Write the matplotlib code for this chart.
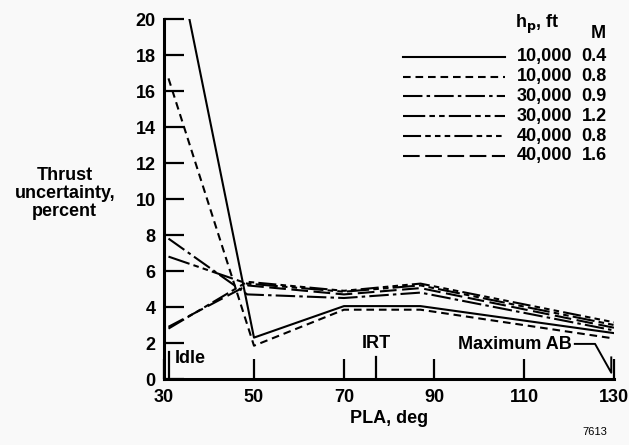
"""
Thrust uncertainty vs PLA for six flight conditions (h_p, M).
Output: out.png
"""
import matplotlib
matplotlib.use("Agg")
import matplotlib.pyplot as plt

plt.rcParams["font.family"] = ["Liberation Sans", "DejaVu Sans"]
plt.rcParams["font.weight"] = "bold"
plt.rcParams["lines.scale_dashes"] = False

FS = 13

# series data (PLA, deg -> thrust uncertainty, percent)
pla_lo = [32, 50, 70, 87, 130]
unc_10k_04 = [24.5, 2.3, 4.05, 4.05, 2.55]
pla_10k_08 = [31, 50, 70, 87, 130]
unc_10k_08 = [16.7, 1.85, 3.85, 3.85, 2.25]
pla_mid = [31, 48.5, 70, 87, 130]
unc_30k_09 = [7.8, 4.7, 4.5, 4.8, 2.7]
unc_30k_12 = [6.8, 5.3, 4.85, 5.2, 3.0]
unc_40k_08 = [2.8, 5.4, 4.9, 5.3, 3.15]
unc_40k_16 = [2.9, 5.2, 4.7, 5.05, 2.85]

altitudes = ["10,000", "10,000", "30,000", "30,000", "40,000", "40,000"]
machs = ["0.4", "0.8", "0.9", "1.2", "0.8", "1.6"]
xs = [pla_lo, pla_10k_08, pla_mid, pla_mid, pla_mid, pla_mid]
ys = [unc_10k_04, unc_10k_08, unc_30k_09, unc_30k_12, unc_40k_08, unc_40k_16]
styles = [
    "-",
    (0, (5.5, 3.5)),
    (0, (14, 3, 2.5, 3)),
    (0, (16, 3, 4, 3, 4, 3)),
    (0, (13, 3, 4, 3, 4, 3, 4, 3)),
    (0, (12, 4)),
]

x_ticks = [30, 50, 70, 90, 110, 130]
y_ticks = list(range(0, 21, 2))

fig = plt.figure(figsize=(6.29, 4.45), dpi=100)
fig.patch.set_facecolor("#f9f9f9")
ax = fig.add_axes([0.2607, 0.1483, 0.7154, 0.809])
ax.set_facecolor("#f9f9f9")

for x, y, ls in zip(xs, ys, styles):
    ax.plot(x, y, color="black", lw=1.5, linestyle=ls)

ax.set_xlim(30, 130)
ax.set_ylim(0, 20)
ax.set_xticks(x_ticks)
ax.set_yticks(y_ticks)
ax.tick_params(direction="in", length=14.5, width=1.6, labelsize=FS, color="black")
ax.tick_params(axis="x", pad=7)
ax.tick_params(axis="y", pad=6)
for s in ["top", "right"]:
    ax.spines[s].set_visible(False)
for s in ["left", "bottom"]:
    ax.spines[s].set_linewidth(2.2)
ax.set_xlabel("PLA, deg", fontsize=FS, fontweight="bold", labelpad=3)

fig.text(0.103, 0.565, "Thrust\nuncertainty,\npercent", ha="center", va="center",
         fontsize=FS, fontweight="bold", multialignment="center", linespacing=1.05)

# operating point markers
ax.plot([31.2, 31.2], [0, 1.5], color="black", lw=1.6)
ax.text(32.3, 1.15, "Idle", fontsize=FS, fontweight="bold", va="center", ha="left")
ax.plot([77.1, 77.1], [0, 1.2], color="black", lw=1.6)
ax.text(77.1, 1.95, "IRT", fontsize=FS, fontweight="bold", va="center", ha="center")
ax.text(120.6, 1.9, "Maximum AB", fontsize=FS, fontweight="bold", va="center", ha="right")
ax.plot([121.3, 125.8, 129.4, 129.4], [1.95, 1.95, 0.35, 1.2], color="black", lw=1.4,
        clip_on=False)

# legend drawn by hand
leg_y = [17.9, 16.8, 15.7, 14.6, 13.5, 12.4]
ax.text(113.0, 19.7, "h$_\\mathbf{p}$, ft", fontsize=FS, fontweight="bold",
        ha="center", va="center", clip_on=False)
ax.text(126.6, 19.2, "M", fontsize=FS, fontweight="bold", ha="center", va="center")
for yy, ls, alt, m in zip(leg_y, styles, altitudes, machs):
    ax.plot([83.1, 105.8], [yy, yy], color="black", lw=1.5, linestyle=ls)
    ax.text(108.4, yy, alt, fontsize=FS, fontweight="bold", ha="left", va="center")
    ax.text(122.8, yy, m, fontsize=FS, fontweight="bold", ha="left", va="center")

fig.text(0.946, 0.018, "7613", fontsize=8, fontweight="normal", ha="center", va="bottom")

fig.savefig("out.png", dpi=100, facecolor=fig.get_facecolor())
